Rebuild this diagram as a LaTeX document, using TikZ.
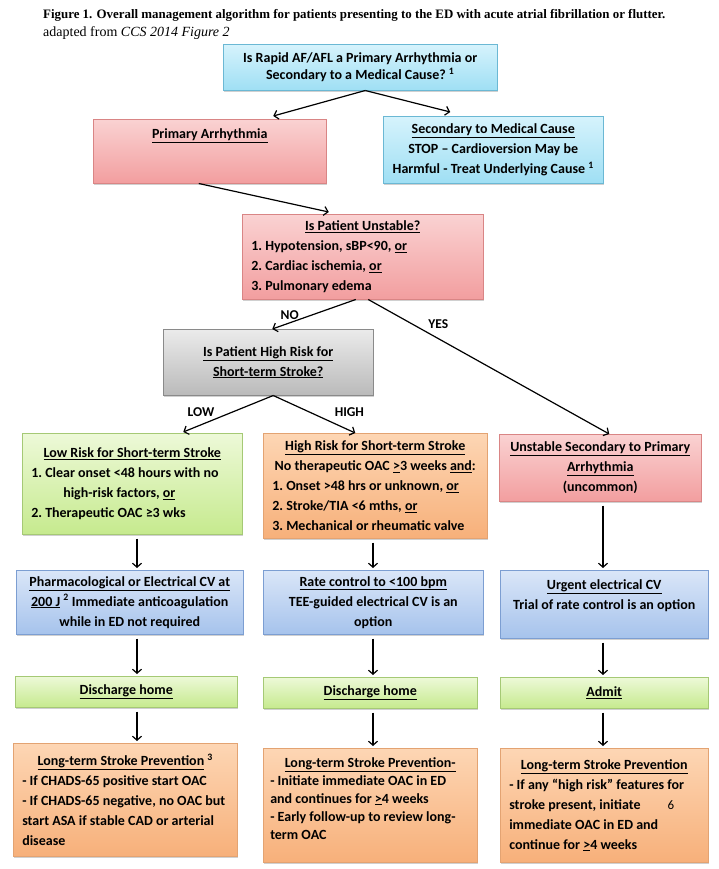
\documentclass[tikz,border=0pt]{standalone}
\usepackage{fontspec}
\setmainfont{Liberation Serif}
\newfontfamily\boxfont{Carlito}
\usetikzlibrary{arrows.meta,shadows}

\definecolor{cyantop}{HTML}{D6F3FC}
\definecolor{cyanbot}{HTML}{9FDFF4}
\definecolor{cyanedge}{HTML}{6BB8D4}
\definecolor{redtop}{HTML}{FAD2D2}
\definecolor{redbot}{HTML}{F29E9F}
\definecolor{rededge}{HTML}{D98585}
\definecolor{graytop}{HTML}{EBEBEB}
\definecolor{graybot}{HTML}{BABABA}
\definecolor{grayedge}{HTML}{8A8A8A}
\definecolor{greentop}{HTML}{EDF9D8}
\definecolor{greenbot}{HTML}{C6EA8E}
\definecolor{greenedge}{HTML}{A5C975}
\definecolor{orangetop}{HTML}{FDD6B4}
\definecolor{orangebot}{HTML}{F7B07A}
\definecolor{orangeedge}{HTML}{E3A372}
\definecolor{bluetop}{HTML}{DAE6F8}
\definecolor{bluebot}{HTML}{A6C3EC}
\definecolor{blueedge}{HTML}{7C9ED2}

\begin{document}
\begin{tikzpicture}[x=1pt, y=-1pt,
    box/.style={draw, line width=0.5pt, anchor=north west, inner sep=3pt, align=center,
      font=\boxfont\bfseries\fontsize{14}{20}\selectfont,
      execute at begin node={\spaceskip=0pt\xspaceskip=0pt\frenchspacing},
      drop shadow={shadow xshift=1.2pt, shadow yshift=-1.6pt, opacity=0.3, fill=black!60}},
    cyanbox/.style={box, draw=cyanedge, top color=cyantop, bottom color=cyanbot},
    redbox/.style={box, draw=rededge, top color=redtop, bottom color=redbot},
    graybox/.style={box, draw=grayedge, top color=graytop, bottom color=graybot},
    greenbox/.style={box, draw=greenedge, top color=greentop, bottom color=greenbot},
    orangebox/.style={box, draw=orangeedge, top color=orangetop, bottom color=orangebot},
    bluebox/.style={box, draw=blueedge, top color=bluetop, bottom color=bluebot},
    arr/.style={line width=1.2pt, -{Straight Barb[length=4pt, width=9pt]}},
    vert/.style={arr, shorten <=4pt, shorten >=2pt},
    lbl/.style={inner sep=1pt, font=\boxfont\bfseries\fontsize{13.5}{16}\selectfont}]

    \path[use as bounding box, fill=white] (0,0) rectangle (719,869);

    % caption
    \node[anchor=base west, inner sep=0pt, font=\bfseries\fontsize{12.9}{15}\selectfont] (title) at (43,18.5)
        {Figure 1. Overall management algorithm for patients presenting to the ED with acute atrial fibrillation or flutter.};
    \node[anchor=base west, inner sep=0pt, font=\fontsize{14}{16}\selectfont] (source) at (43,36.5)
        {adapted from \textit{CCS 2014 Figure 2}};

    % top of the chart
    \node[cyanbox, minimum width=274pt, minimum height=46pt, font=\boxfont\bfseries\fontsize{14}{17}\selectfont] (q1) at (223,44)
        {Is Rapid AF/AFL a Primary Arrhythmia or\\Secondary to a Medical Cause? \textsuperscript{1}};
    \node[redbox, minimum width=233pt, text height=16.5pt, text depth=41.5pt] (prim) at (93,119)
        {\underline{Primary Arrhythmia}};
    \node[cyanbox, minimum width=220pt, minimum height=67pt] (sec) at (383,116)
        {\underline{Secondary to Medical Cause}\\STOP – Cardioversion May be\\Harmful - Treat Underlying Cause \textsuperscript{1}};
    \node[redbox, align=left, text width=223pt, inner xsep=9pt, minimum height=85pt] (unst) at (242,214)
        {\mbox{}\hfill\underline{Is Patient Unstable?}\hfill\mbox{}\\1. Hypotension, sBP<90, \underline{or}\\2. Cardiac ischemia, \underline{or}\\3. Pulmonary edema};
    \node[graybox, minimum width=210pt, minimum height=66pt] (risk) at (163,329)
        {\underline{Is Patient High Risk for}\\\underline{Short-term Stroke?}};

    % first row
    \node[greenbox, align=left, text width=202pt, inner xsep=9pt, minimum height=101pt] (low) at (22,433)
        {\mbox{}\hfill\underline{Low Risk for Short-term Stroke}\hfill\mbox{}\\1. Clear onset <48 hours with no\\\hspace*{32pt}high-risk factors, \underline{or}\\2. Therapeutic OAC ≥3 wks};
    \node[orangebox, align=left, text width=206pt, inner xsep=9pt, minimum height=105pt] (high) at (263,433)
        {\mbox{}\hfill\underline{High Risk for Short-term Stroke}\hfill\mbox{}\\\mbox{}\hfill No therapeutic OAC \underline{>}3 weeks \underline{and}:\hfill\mbox{}\\1. Onset >48 hrs or unknown, \underline{or}\\2. Stroke/TIA <6 mths, \underline{or}\\3. Mechanical or rheumatic valve};
    \node[redbox, minimum width=202pt, minimum height=67pt] (unsec) at (499,434)
        {\underline{Unstable Secondary to Primary}\\\underline{Arrhythmia}\\(uncommon)};

    % second row
    \node[bluebox, minimum width=227pt, minimum height=64pt] (pcv) at (16,570)
        {\underline{Pharmacological or Electrical CV at}\\\underline{200 J} \textsuperscript{2} Immediate anticoagulation\\while in ED not required};
    \node[bluebox, minimum width=220pt, minimum height=64pt] (rate) at (263,570)
        {\underline{Rate control to <100 bpm}\\TEE-guided electrical CV is an\\option};
    \node[bluebox, minimum width=208pt, minimum height=68pt] (urg) at (500,570)
        {\underline{Urgent electrical CV}\\Trial of rate control is an option\\\mbox{}};

    % third row
    \node[greenbox, minimum width=222pt, minimum height=31pt] (home1) at (15,676) {\underline{Discharge home}};
    \node[greenbox, minimum width=214pt, minimum height=31pt] (home2) at (263,677) {\underline{Discharge home}};
    \node[greenbox, minimum width=208pt, minimum height=31pt] (admit) at (500,677) {\underline{Admit}};

    % last row
    \node[orangebox, align=left, text width=206pt, inner xsep=9pt, minimum height=113pt] (prev1) at (13,743)
        {\mbox{}\hfill\underline{Long-term Stroke Prevention} \textsuperscript{3}\hfill\mbox{}\\- If CHADS-65 positive start OAC\\- If CHADS-65 negative, no OAC but\\start ASA if stable CAD or arterial\\disease};
    \node[orangebox, align=left, text width=200pt, inner xsep=7pt, minimum height=114pt, text depth=86pt, font=\boxfont\bfseries\fontsize{14}{18}\selectfont] (prev2) at (263,748)
        {\mbox{}\hfill\underline{Long-term Stroke Prevention-}\hfill\mbox{}\\- Initiate immediate OAC in ED\\and continues for \underline{>}4 weeks\\- Early follow-up to review long-\\term OAC};
    \node[orangebox, align=left, text width=190pt, inner xsep=9pt, minimum height=114pt] (prev3) at (500,748)
        {\mbox{}\hfill\underline{Long-term Stroke Prevention}\hfill\mbox{}\\- If any “high risk” features for\\stroke present, initiate\hspace{27pt}{\mdseries\fontsize{13}{20}\selectfont 6}\\immediate OAC in ED and\\continue for \underline{>}4 weeks};

    % slanted connectors
    \draw[arr] ([xshift=5pt]q1.south) -- ([xshift=63.5pt, yshift=3pt]prim.north);
    \draw[arr] ([xshift=5pt]q1.south) -- ([xshift=-43pt, yshift=4pt]sec.north);
    \draw[arr] ([xshift=-11pt]prim.south) -- ([xshift=-34pt, yshift=2pt]unst.north);
    \draw[arr] ([xshift=-7pt]unst.south) -- node[lbl, pos=0.52, left=12pt] (no) {NO} ([xshift=4pt]risk.north);
    \draw[arr] ([xshift=5.5pt]unst.south) -- node[lbl, pos=0.185, right=14pt] (yes) {YES} ([xshift=9pt]unsec.north);
    \draw[arr] ([xshift=5pt]risk.south) -- node[lbl, pos=0.46, left=16pt] (lo) {LOW} ([xshift=51pt, yshift=1pt]low.north);
    \draw[arr] ([xshift=5pt]risk.south) -- node[lbl, pos=0.45, right=23pt] (hi) {HIGH} ([xshift=-20pt]high.north);

    % columns
    \coordinate (col1) at (137,0);
    \coordinate (col2) at (373,0);
    \coordinate (col3) at (603,0);

    \draw[vert] (low.south -| col1) -- (pcv.north -| col1);
    \draw[vert] (pcv.south -| col1) -- (home1.north -| col1);
    \draw[vert] (home1.south -| col1) -- (prev1.north -| col1);
    \draw[vert] (high.south -| col2) -- (rate.north -| col2);
    \draw[vert] (rate.south -| col2) -- (home2.north -| col2);
    \draw[vert] (home2.south -| col2) -- (prev2.north -| col2);
    \draw[vert] (unsec.south -| col3) -- (urg.north -| col3);
    \draw[vert] (urg.south -| col3) -- (admit.north -| col3);
    \draw[vert] (admit.south -| col3) -- (prev3.north -| col3);
\end{tikzpicture}
\end{document}
